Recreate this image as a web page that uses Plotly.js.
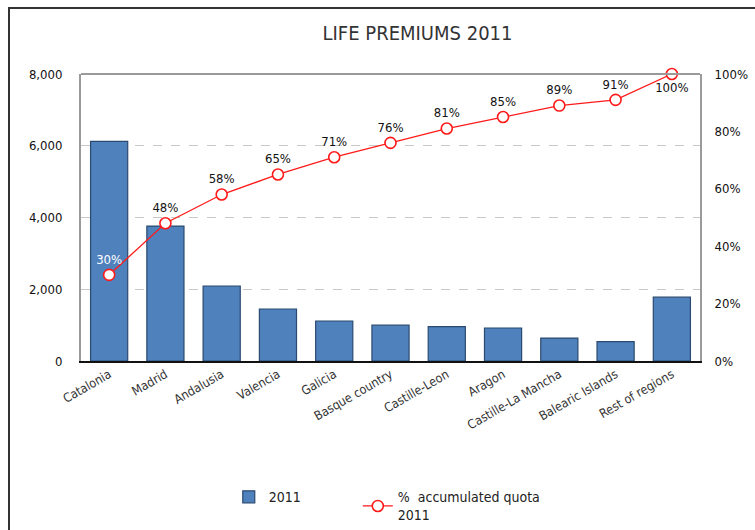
<!DOCTYPE html>
<html><head><meta charset="utf-8">
<script src="https://cdn.plot.ly/plotly-3.0.1.min.js"></script>
<style>
html,body{margin:0;padding:0;background:#fff;}
#wrap{position:absolute;left:0;top:0;width:755px;height:530px;overflow:hidden;}
#frame{position:absolute;left:8px;top:7px;width:800px;height:600px;border:2px solid #333;box-sizing:border-box;pointer-events:none;z-index:5;}
#chart{position:absolute;left:0;top:0;width:755px;height:530px;}
</style></head>
<body>
<div id="wrap"><div id="chart"></div><div id="frame"></div></div>
<script>
const categories = ["Catalonia","Madrid","Andalusia","Valencia","Galicia","Basque country","Castille-Leon","Aragon","Castille-La Mancha","Balearic Islands","Rest of regions"];
const premiums2011 = [6120, 3760, 2090, 1450, 1115, 1000, 960, 920, 640, 540, 1780];
const accumulatedQuota = [0.30, 0.48, 0.58, 0.65, 0.71, 0.76, 0.81, 0.85, 0.89, 0.91, 1.00];
const quotaLabels = ["30%","48%","58%","65%","71%","76%","81%","85%","89%","91%","100%"];
const leftTicks = [0, 2000, 4000, 6000, 8000];
const rightTicks = [0, 0.2, 0.4, 0.6, 0.8, 1.0];

const font = "'DejaVu Sans Condensed', 'Liberation Sans Narrow', 'Roboto', sans-serif";

const labelColors = quotaLabels.map((_, i) => i === 0 ? "#ffffff" : "#111111");
const labelPos = quotaLabels.map((_, i) => i === quotaLabels.length - 1 ? "bottom center" : "top center");

const traces = [
  {
    type: "bar", x: categories, y: premiums2011, name: "2011" + "\u00a0".repeat(13),
    marker: {color: "#4f81bd", line: {color: "#2b4a70", width: 1.2}},
    width: 0.66, hoverinfo: "x+y"
  },
  {
    type: "scatter", mode: "lines+markers+text", x: categories, y: accumulatedQuota, yaxis: "y2",
    name: "%  accumulated quota<br>2011",
    line: {color: "#ff1a1a", width: 1.3},
    marker: {symbol: "circle", size: 11, color: "#ffffff", line: {color: "#ff1a1a", width: 1.6}},
    text: quotaLabels, textposition: labelPos,
    textfont: {family: font, size: 13, color: labelColors},
    cliponaxis: false
  }
];

const layout = {
  width: 755, height: 530,
  margin: {l: 81, r: 55, t: 74, b: 169},
  paper_bgcolor: "#ffffff", plot_bgcolor: "#ffffff",
  font: {family: font, color: "#222"},
  title: {text: "LIFE PREMIUMS 2011", font: {family: font, size: 20, color: "#333"}, x: 0.553, xref: "container", xanchor: "center", y: 0.938, yanchor: "middle"},
  xaxis: {
    range: [-0.5, categories.length - 0.5],
    tickangle: -30, tickfont: {family: font, size: 12.5, color: "#333"},
    showline: true, linecolor: "#111", linewidth: 1.5, ticks: "", showgrid: false,
    automargin: false
  },
  yaxis: {
    range: [0, 8000], tickvals: leftTicks, tickformat: ",",
    tickfont: {family: font, size: 13, color: "#111"},
    showgrid: true, gridcolor: "#c8c8c8", griddash: "dash", gridwidth: 1,
    showline: true, linecolor: "#9a9a9a", linewidth: 2, zeroline: false,
    ticks: "", ticklabelstandoff: 14, automargin: false
  },
  yaxis2: {
    range: [0, 1], tickvals: rightTicks, tickformat: ".0%", overlaying: "y", side: "right",
    tickfont: {family: font, size: 13, color: "#111"},
    showgrid: false, showline: true, linecolor: "#9a9a9a", linewidth: 2, zeroline: false,
    ticks: "", ticklabelstandoff: 10, automargin: false
  },
  shapes: [
    {type: "line", xref: "paper", yref: "paper", x0: 0, x1: 1, y0: 1, y1: 1, line: {color: "#9a9a9a", width: 2}}
  ],
  showlegend: true,
  legend: {orientation: "h", xref: "container", yref: "container", x: 0.303, xanchor: "left", y: 0.092, yanchor: "top",
    font: {family: font, size: 14, color: "#222"}, traceorder: "normal", itemwidth: 30}
};

Plotly.newPlot("chart", traces, layout, {displayModeBar: false, staticPlot: true});
</script>
</body></html>
